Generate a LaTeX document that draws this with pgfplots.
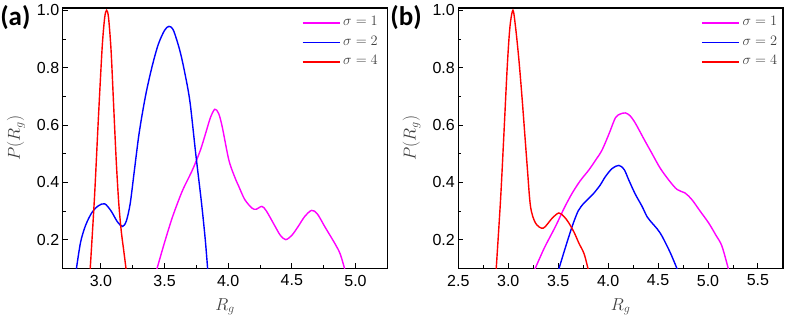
\documentclass[border=0pt]{standalone}
\usepackage{fontspec}
\setmainfont{Liberation Sans}
\newfontfamily\panelfont{Carlito}
\usepackage{pgfplots}
\pgfplotsset{compat=1.18}

\definecolor{cmag}{RGB}{255,0,255}
\definecolor{cblue}{RGB}{0,0,255}
\definecolor{cred}{RGB}{255,0,0}

\newcommand{\lbl}[1]{{\fontsize{17}{20}\selectfont\color{black!75}$#1$}}
\newcommand{\leg}[1]{\fontsize{14}{16}\selectfont\color{black!75}$\sigma=#1$}

\pgfplotsset{
  every axis/.append style={
    scale only axis,
    width=324.6pt, height=260.3pt,
    ymin=0.1, ymax=1.008,
    ytick={0.2,0.4,0.6,0.8,1.0},
    minor x tick num=1, minor y tick num=1,
    tick align=inside,
    xtick pos=bottom, ytick pos=left,
    major tick length=5pt, minor tick length=3pt,
    axis line style={line width=1.2pt},
    tick style={line width=0.9pt, black},
    tick label style={font=\fontsize{16}{18}\selectfont},
    xticklabel shift=3pt,
    xlabel style={at={(axis description cs:0.5,-0.1475)}, anchor=center},
    ylabel style={at={(axis description cs:-0.144,0.5)}, anchor=center},
    clip mode=individual,
  },
  every axis plot/.append style={line width=1.4pt, smooth, no markers},
  every axis legend/.append style={draw=none, fill=none, inner sep=0pt, anchor=north east,
    row sep=6.5pt, column sep=3pt,
    nodes={inner sep=0pt, text height=9.5pt, text depth=3.5pt}},
  legend image code/.code={\draw[#1, line width=1.4pt] (0pt,0pt) -- (37pt,0pt);},
  /pgf/number format/assume math mode=true,
  /pgf/number format/fixed, /pgf/number format/fixed zerofill, /pgf/number format/precision=1,
}

\begin{document}
\begin{tikzpicture}
\begin{axis}[xmin=2.7, xmax=5.25, xtick={3.0,3.5,4.0,4.5,5.0}, xlabel={\lbl{R_g}}, ylabel={\lbl{P(R_g)}},
  legend style={at={(axis description cs:0.9713,0.9685)}}]
\addplot[cmag] coordinates {(3.435,0.09) (3.50,0.19) (3.564,0.281) (3.64,0.37) (3.719,0.443) (3.78,0.51) (3.823,0.571) (3.86,0.625) (3.895,0.655) (3.925,0.64) (3.953,0.594) (4.005,0.478) (4.05,0.42) (4.083,0.386) (4.13,0.34) (4.187,0.31) (4.22,0.306) (4.265,0.316) (4.30,0.30) (4.369,0.246) (4.41,0.215) (4.452,0.2) (4.50,0.215) (4.55,0.246) (4.60,0.28) (4.655,0.302) (4.70,0.29) (4.758,0.246) (4.836,0.188) (4.88,0.15) (4.92,0.09)};
\addlegendentry{\leg{1}}
\addplot[cblue] coordinates {(2.805,0.09) (2.84,0.19) (2.88,0.25) (2.93,0.295) (2.98,0.318) (3.03,0.325) (3.08,0.30) (3.13,0.262) (3.17,0.246) (3.20,0.265) (3.23,0.325) (3.26,0.43) (3.30,0.57) (3.35,0.70) (3.40,0.80) (3.45,0.88) (3.50,0.93) (3.535,0.944) (3.57,0.93) (3.62,0.86) (3.66,0.78) (3.70,0.68) (3.745,0.50) (3.79,0.33) (3.82,0.20) (3.84,0.09)};
\addlegendentry{\leg{2}}
\addplot[cred] coordinates {(2.915,0.09) (2.95,0.35) (2.98,0.62) (3.01,0.87) (3.03,0.975) (3.045,1.0) (3.06,0.975) (3.08,0.86) (3.10,0.67) (3.12,0.48) (3.14,0.33) (3.16,0.23) (3.18,0.16) (3.20,0.09)};
\addlegendentry{\leg{4}}
\node[anchor=west, font=\panelfont\bfseries\fontsize{27}{30}\selectfont, inner sep=0pt] at (axis description cs:-0.193,0.9616) {(a)};
\end{axis}
\begin{axis}[at={(395.6pt,0pt)}, xmin=2.5, xmax=5.75, xtick={2.5,3.0,3.5,4.0,4.5,5.0,5.5}, xlabel={\lbl{R_g}}, ylabel={\lbl{P(R_g)}},
  legend style={at={(axis description cs:0.9827,0.9685)}}]
\addplot[cmag] coordinates {(3.258,0.09) (3.36,0.17) (3.473,0.246) (3.56,0.31) (3.64,0.362) (3.72,0.405) (3.807,0.443) (3.88,0.48) (3.94,0.513) (4.01,0.57) (4.073,0.625) (4.12,0.638) (4.173,0.642) (4.22,0.632) (4.273,0.606) (4.36,0.55) (4.44,0.50) (4.52,0.45) (4.607,0.408) (4.69,0.375) (4.773,0.362) (4.84,0.339) (4.92,0.30) (5.007,0.258) (5.08,0.215) (5.14,0.177) (5.21,0.09)};
\addlegendentry{\leg{1}}
\addplot[cblue] coordinates {(3.50,0.09) (3.57,0.17) (3.64,0.246) (3.70,0.30) (3.757,0.327) (3.81,0.345) (3.857,0.362) (3.92,0.39) (3.973,0.42) (4.04,0.448) (4.107,0.459) (4.16,0.445) (4.207,0.408) (4.27,0.36) (4.34,0.316) (4.39,0.28) (4.44,0.258) (4.49,0.238) (4.54,0.212) (4.623,0.154) (4.70,0.09)};
\addlegendentry{\leg{2}}
\addplot[cred] coordinates {(2.878,0.09) (2.923,0.339) (2.957,0.571) (2.99,0.803) (3.017,0.942) (3.047,1.0) (3.073,0.942) (3.107,0.826) (3.14,0.687) (3.19,0.455) (3.223,0.316) (3.273,0.258) (3.35,0.24) (3.44,0.275) (3.507,0.293) (3.56,0.28) (3.607,0.258) (3.66,0.225) (3.707,0.188) (3.76,0.15) (3.805,0.09)};
\addlegendentry{\leg{4}}
\node[anchor=west, font=\panelfont\bfseries\fontsize{27}{30}\selectfont, inner sep=0pt] at (axis description cs:-0.21,0.9616) {(b)};
\end{axis}
\pgfresetboundingbox
\path (-62.7pt,-53.7pt) rectangle (726.3pt,268.3pt);
\end{tikzpicture}
\end{document}
